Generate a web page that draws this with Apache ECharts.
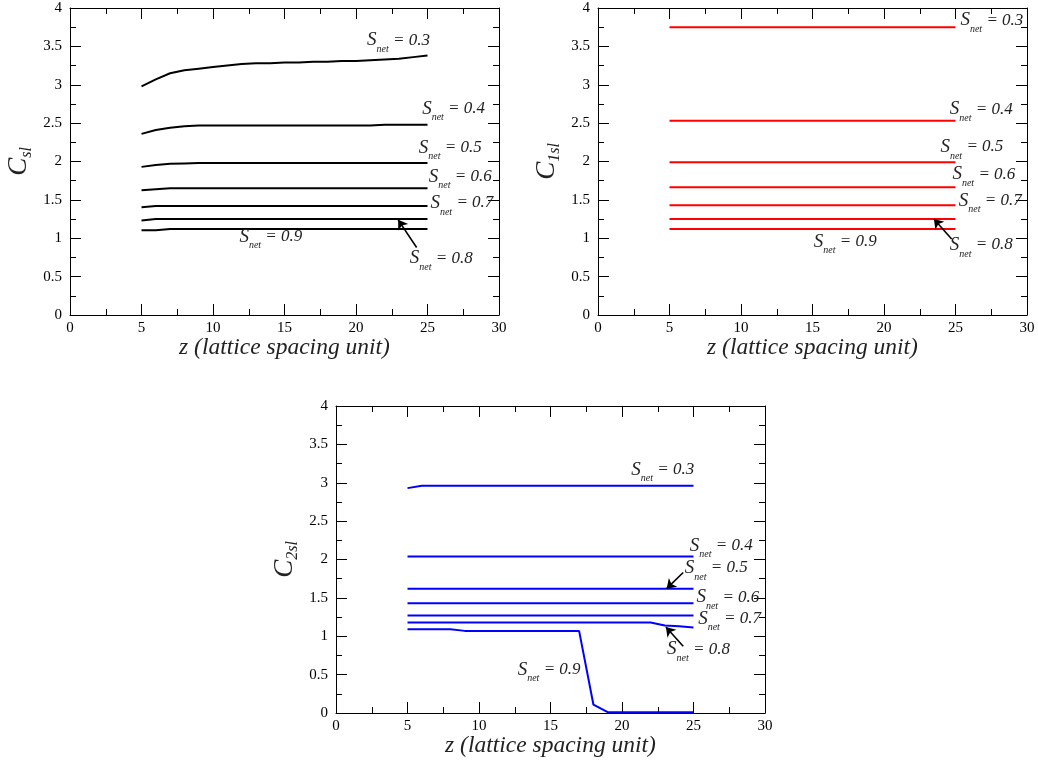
<!DOCTYPE html>
<html><head><meta charset="utf-8">
<script src="https://cdn.jsdelivr.net/npm/echarts@6/dist/echarts.min.js"></script>
<style>html,body{margin:0;padding:0;background:#fff}#c{width:1038px;height:764px}</style>
</head><body><div id="c"></div><script>
// ---------- data ----------
const Z = [5,6,7,8,9,10,11,12,13,14,15,16,17,18,19,20,21,22,23,24,25];
const SNET = ['0.3','0.4','0.5','0.6','0.7','0.8','0.9'];
const X_TICKS = [0,5,10,15,20,25,30];
const Y_TICKS = [0,0.5,1,1.5,2,2.5,3,3.5,4];
const Y_NAMES = ['sl','1sl','2sl'];
const X_NAME = 'z (lattice spacing unit)';

// C_sl (top-left)
const csl03 = [2.98,3.07,3.15,3.19,3.21,3.23,3.25,3.27,3.28,3.28,3.29,3.29,3.30,3.30,3.31,3.31,3.32,3.33,3.34,3.36,3.38];
const csl04 = [2.36,2.41,2.44,2.46,2.47,2.47,2.47,2.47,2.47,2.47,2.47,2.47,2.47,2.47,2.47,2.47,2.47,2.48,2.48,2.48,2.48];
const csl05 = [1.93,1.955,1.97,1.975,1.98,1.98,1.98,1.98,1.98,1.98,1.98,1.98,1.98,1.98,1.98,1.98,1.98,1.98,1.98,1.98,1.98];
const csl06 = [1.625,1.64,1.65,1.65,1.65,1.65,1.65,1.65,1.65,1.65,1.65,1.65,1.65,1.65,1.65,1.65,1.65,1.65,1.65,1.65,1.65];
const csl07 = [1.405,1.42,1.42,1.42,1.42,1.42,1.42,1.42,1.42,1.42,1.42,1.42,1.42,1.42,1.42,1.42,1.42,1.42,1.42,1.42,1.42];
const csl08 = [1.23,1.25,1.25,1.25,1.25,1.25,1.25,1.25,1.25,1.25,1.25,1.25,1.25,1.25,1.25,1.25,1.25,1.25,1.25,1.25,1.25];
const csl09 = [1.105,1.105,1.12,1.12,1.12,1.12,1.12,1.12,1.12,1.12,1.12,1.12,1.12,1.12,1.12,1.12,1.12,1.12,1.12,1.12,1.12];

// C_1sl (top-right)
const c1sl03 = [3.75,3.75,3.75,3.75,3.75,3.75,3.75,3.75,3.75,3.75,3.75,3.75,3.75,3.75,3.75,3.75,3.75,3.75,3.75,3.75,3.75];
const c1sl04 = [2.53,2.53,2.53,2.53,2.53,2.53,2.53,2.53,2.53,2.53,2.53,2.53,2.53,2.53,2.53,2.53,2.53,2.53,2.53,2.53,2.53];
const c1sl05 = [1.99,1.99,1.99,1.99,1.99,1.99,1.99,1.99,1.99,1.99,1.99,1.99,1.99,1.99,1.99,1.99,1.99,1.99,1.99,1.99,1.99];
const c1sl06 = [1.665,1.665,1.665,1.665,1.665,1.665,1.665,1.665,1.665,1.665,1.665,1.665,1.665,1.665,1.665,1.665,1.665,1.665,1.665,1.665,1.665];
const c1sl07 = [1.43,1.43,1.43,1.43,1.43,1.43,1.43,1.43,1.43,1.43,1.43,1.43,1.43,1.43,1.43,1.43,1.43,1.43,1.43,1.43,1.43];
const c1sl08 = [1.25,1.25,1.25,1.25,1.25,1.25,1.25,1.25,1.25,1.25,1.25,1.25,1.25,1.25,1.25,1.25,1.25,1.25,1.25,1.25,1.25];
const c1sl09 = [1.12,1.12,1.12,1.12,1.12,1.12,1.12,1.12,1.12,1.12,1.12,1.12,1.12,1.12,1.12,1.12,1.12,1.12,1.12,1.12,1.12];

// C_2sl (bottom)
const c2sl03 = [2.93,2.96,2.96,2.96,2.96,2.96,2.96,2.96,2.96,2.96,2.96,2.96,2.96,2.96,2.96,2.96,2.96,2.96,2.96,2.96,2.96];
const c2sl04 = [2.04,2.04,2.04,2.04,2.04,2.04,2.04,2.04,2.04,2.04,2.04,2.04,2.04,2.04,2.04,2.04,2.04,2.04,2.04,2.04,2.04];
const c2sl05 = [1.62,1.62,1.62,1.62,1.62,1.62,1.62,1.62,1.62,1.62,1.62,1.62,1.62,1.62,1.62,1.62,1.62,1.62,1.62,1.62,1.62];
const c2sl06 = [1.43,1.43,1.43,1.43,1.43,1.43,1.43,1.43,1.43,1.43,1.43,1.43,1.43,1.43,1.43,1.43,1.43,1.43,1.43,1.43,1.43];
const c2sl07 = [1.27,1.27,1.27,1.27,1.27,1.27,1.27,1.27,1.27,1.27,1.27,1.27,1.27,1.27,1.27,1.27,1.27,1.27,1.27,1.27,1.27];
const c2sl08 = [1.18,1.18,1.18,1.18,1.18,1.18,1.18,1.18,1.18,1.18,1.18,1.18,1.18,1.18,1.18,1.18,1.18,1.18,1.14,1.13,1.115];
const c2sl09 = [1.09,1.09,1.09,1.09,1.07,1.07,1.07,1.07,1.07,1.07,1.07,1.07,1.07,0.11,0.01,0.01,0.01,0.01,0.01,0.01,0.01];

// ---------- annotation placement (data coords) ----------
const LABELS = [
  [[20.73,3.58],[24.59,2.69],[24.35,2.18],[25.05,1.80],[25.17,1.46],[23.72,0.74],[11.81,1.02]],
  [[25.31,3.84],[24.56,2.68],[23.91,2.19],[24.75,1.835],[25.19,1.49],[24.56,0.913],[15.05,0.957]],
  [[20.62,3.17],[24.70,2.18],[24.35,1.89],[25.17,1.51],[25.29,1.23],[23.12,0.83],[12.67,0.565]]
];
const ARROWS = [
  {5: [[24.24,0.88],[22.95,1.24]]},
  {5: [[24.73,0.99],[23.49,1.25]]},
  {2: [[24.28,1.83],[23.12,1.62]], 5: [[24.28,0.87],[23.07,1.12]]}
];

const PANEL_SERIES = [
  [csl03,csl04,csl05,csl06,csl07,csl08,csl09],
  [c1sl03,c1sl04,c1sl05,c1sl06,c1sl07,c1sl08,c1sl09],
  [c2sl03,c2sl04,c2sl05,c2sl06,c2sl07,c2sl08,c2sl09]
];
const COLORS = ['#000000','#ff0000','#0000ff'];
const GRIDS = [
  {left:70, top:8, width:429, height:307},
  {left:598, top:8, width:429, height:307},
  {left:336, top:406, width:429, height:307}
];

const FONT = 'Liberation Serif';
const TXT = '#222';
const RICH = {
  s: {fontFamily:FONT, fontStyle:'italic', fontSize:19, color:TXT, lineHeight:28, verticalAlign:'middle'},
  n: {fontFamily:FONT, fontStyle:'italic', fontSize:10, color:TXT, verticalAlign:'bottom'},
  t: {fontFamily:FONT, fontStyle:'italic', fontSize:17, color:TXT, lineHeight:28, verticalAlign:'middle'}
};

const tickCommon = {
  axisLine: {show:true, onZero:false, lineStyle:{color:'#000', width:1}},
  axisTick: {show:true, inside:true, length:11, lineStyle:{color:'#000', width:1}},
  minorTick: {show:true, splitNumber:2, length:6, lineStyle:{color:'#000', width:1}},
  splitLine: {show:false},
  minorSplitLine: {show:false}
};

const xAxes = [], yAxes = [], series = [];
GRIDS.forEach((g, p) => {
  const xmin = X_TICKS[0], xmax = X_TICKS[X_TICKS.length-1], xint = X_TICKS[1]-X_TICKS[0];
  const ymin = Y_TICKS[0], ymax = Y_TICKS[Y_TICKS.length-1], yint = Y_TICKS[1]-Y_TICKS[0];
  xAxes.push(Object.assign({
    type:'value', gridIndex:p, position:'bottom', min:xmin, max:xmax, interval:xint,
    name: X_NAME, nameLocation:'middle', nameGap:21, nameMoveOverlap:false,
    nameTextStyle:{fontFamily:FONT, fontStyle:'italic', fontSize:23.5, color:TXT},
    axisLabel:{show:true, fontFamily:FONT, fontSize:15, color:'#000', margin:6}
  }, tickCommon));
  xAxes.push(Object.assign({
    type:'value', gridIndex:p, position:'top', min:xmin, max:xmax, interval:xint,
    axisLabel:{show:false}
  }, tickCommon));
  yAxes.push(Object.assign({
    type:'value', gridIndex:p, position:'left', min:ymin, max:ymax, interval:yint,
    name:'{c|C}{s|' + Y_NAMES[p] + '}', nameLocation:'middle', nameGap:35, nameMoveOverlap:false,
    nameTextStyle:{rich:{
      c:{fontFamily:FONT, fontStyle:'italic', fontSize:27, color:TXT, lineHeight:32, verticalAlign:'middle'},
      s:{fontFamily:FONT, fontStyle:'italic', fontSize:16, color:TXT, verticalAlign:'bottom'}
    }},
    axisLabel:{show:true, fontFamily:FONT, fontSize:15, color:'#000', margin:8}
  }, tickCommon));
  yAxes.push(Object.assign({
    type:'value', gridIndex:p, position:'right', min:ymin, max:ymax, interval:yint,
    axisLabel:{show:false}
  }, tickCommon));

  PANEL_SERIES[p].forEach((arr, k) => {
    const s = {
      type:'line', xAxisIndex:2*p, yAxisIndex:2*p,
      data: Z.map((z, i) => [z, arr[i]]),
      showSymbol:false, symbol:'none', clip:false,
      lineStyle:{color:COLORS[p], width:2},
      itemStyle:{color:COLORS[p]},
      animation:false,
      markPoint:{
        symbol:'rect', symbolSize:1, silent:true, animation:false,
        itemStyle:{color:'rgba(0,0,0,0)'},
        label:{show:true, position:'right', distance:0, color:TXT,
          formatter:'{s|S}{n|net}{t| = ' + SNET[k] + '}', rich:RICH},
        data:[{coord: LABELS[p][k]}]
      }
    };
    const ar = ARROWS[p][k];
    if (ar) {
      s.markLine = {
        silent:true, animation:false, symbol:['none','arrow'], symbolSize:9,
        lineStyle:{color:'#000', width:1.6, type:'solid'},
        label:{show:false},
        data:[[{coord:ar[0]},{coord:ar[1]}]]
      };
    }
    series.push(s);
  });
});

const chart = echarts.init(document.getElementById('c'), null, {renderer:'canvas'});
chart.setOption({
  animation:false,
  backgroundColor:'#fff',
  grid: GRIDS.map(g => Object.assign({containLabel:false, outerBoundsMode:'none'}, g)),
  xAxis: xAxes,
  yAxis: yAxes,
  series: series
});
</script></body></html>
